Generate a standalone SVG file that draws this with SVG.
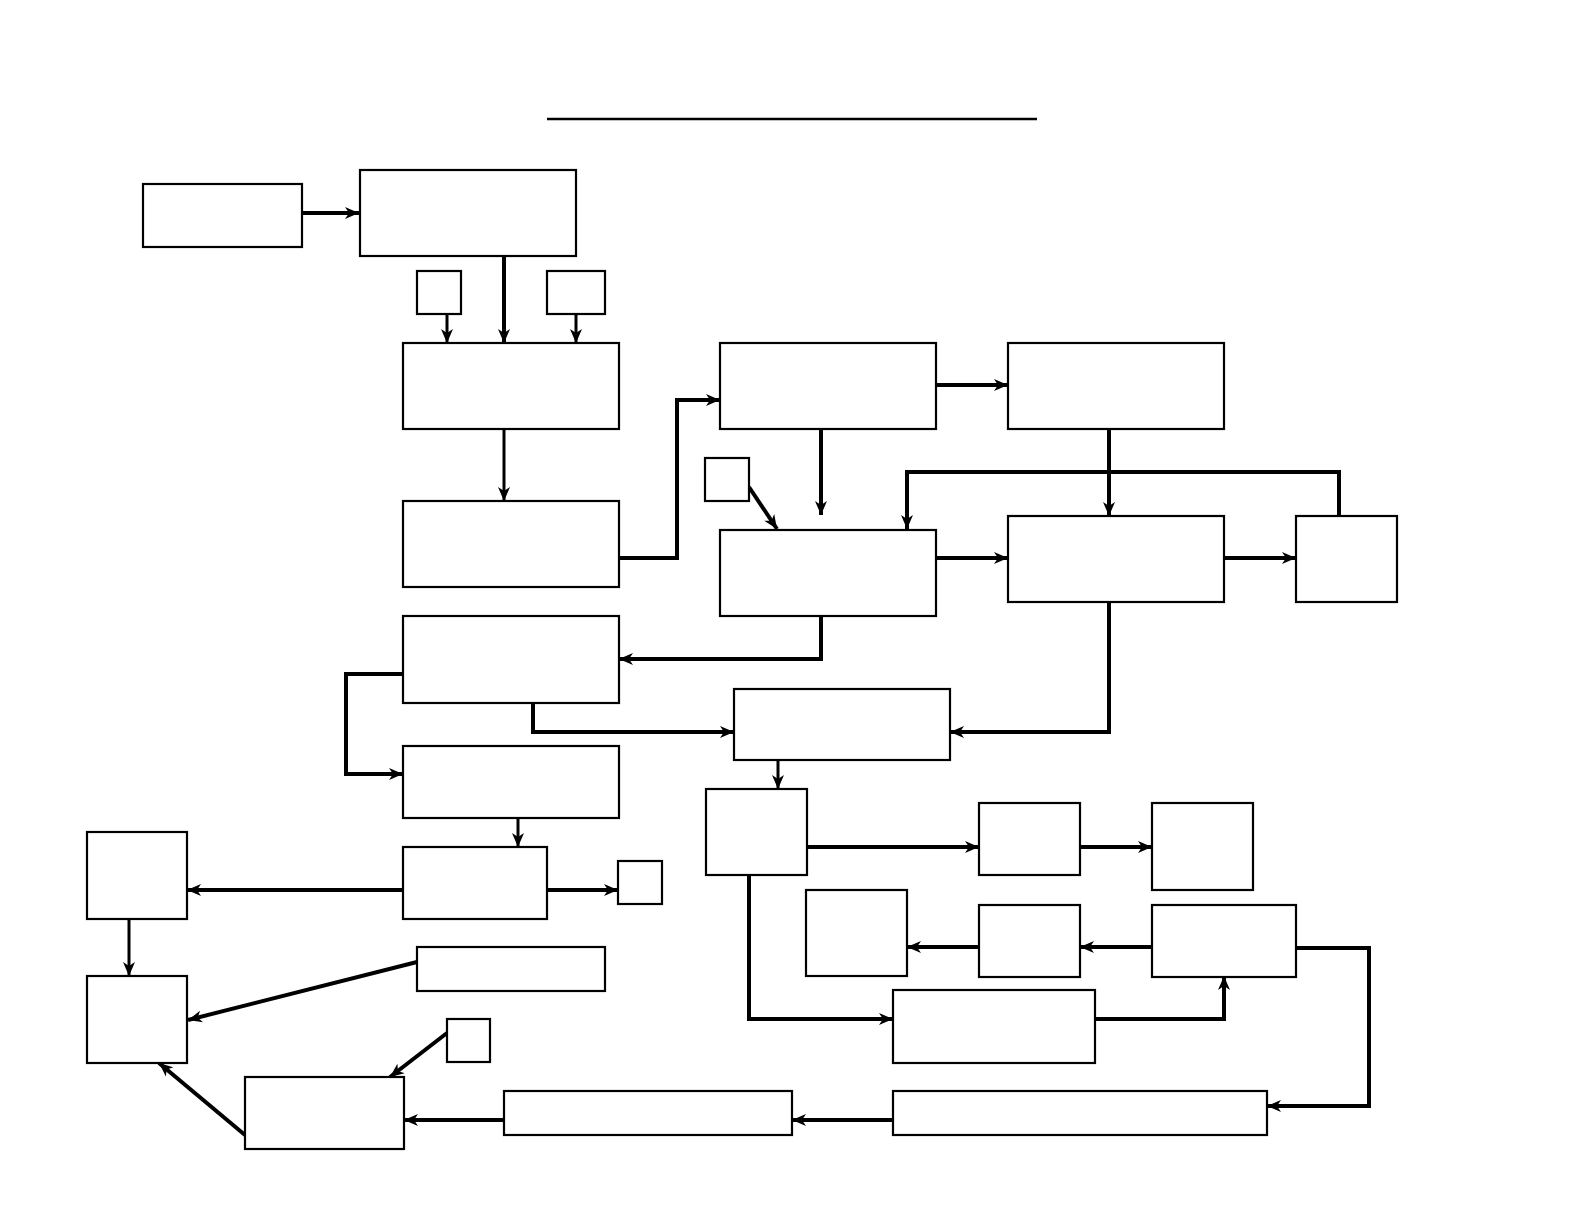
<svg xmlns="http://www.w3.org/2000/svg" width="1584" height="1224" viewBox="0 0 1584 1224">
<defs>
<style>
.n{fill:#fff;stroke:#000;stroke-width:2.2}
.c{fill:none;stroke:#000;stroke-width:4;stroke-linejoin:miter}
.t{stroke-width:3}
.a{marker-end:url(#ah)}
</style>
<marker id="ah" markerUnits="userSpaceOnUse" markerWidth="15" markerHeight="13" refX="14" refY="6.5" orient="auto">
<path d="M0,0.5 L14,6.5 L0,12.5 L4,6.5 z" fill="#000"/>
</marker>
</defs>
<rect width="1584" height="1224" fill="#fff"/>
<line x1="547" y1="119" x2="1037" y2="119" stroke="#000" stroke-width="2.5"/>
<g id="connectors">
<path class="c a" d="M302,213 H359"/>
<path class="c a" d="M504,256 V343"/>
<path class="c t a" d="M447,314 V343"/>
<path class="c t a" d="M576,314 V343"/>
<path class="c t a" d="M504,429 V501"/>
<path class="c a" d="M619,558 H677 V400 H720"/>
<path class="c a" d="M936,385 H1008"/>
<path class="c a" d="M821,429 V515"/>
<path class="c a" d="M749,487 L777,529"/>
<path class="c a" d="M1109,429 V516"/>
<path class="c a" d="M1339,516 V472 H907 V529"/>
<path class="c a" d="M936,558 H1008"/>
<path class="c a" d="M1224,558 H1296"/>
<path class="c a" d="M821,616 V659 H619"/>
<path class="c a" d="M1109,602 V732 H950"/>
<path class="c a" d="M403,674 H346 V774 H403"/>
<path class="c a" d="M533,703 V732 H734"/>
<path class="c t a" d="M778,760 V789"/>
<path class="c t a" d="M518,818 V847"/>
<path class="c a" d="M403,890 H187"/>
<path class="c a" d="M547,890 H618"/>
<path class="c t a" d="M129,919 V976"/>
<path class="c a" d="M417,962 L188,1020"/>
<path class="c a" d="M447,1033 L390,1077"/>
<path class="c a" d="M245,1135 L159,1063"/>
<path class="c a" d="M504,1120 H404"/>
<path class="c a" d="M893,1120 H792"/>
<path class="c a" d="M1296,948 H1369 V1106 H1267"/>
<path class="c a" d="M806,847 H979"/>
<path class="c a" d="M1080,847 H1152"/>
<path class="c a" d="M1152,947 H1080"/>
<path class="c a" d="M979,947 H907"/>
<path class="c a" d="M749,875 V1019 H893"/>
<path class="c a" d="M1095,1019 H1224 V976"/>
</g>
<g id="nA"><rect class="n" x="143" y="184" width="159" height="63"/></g>
<g id="nB"><rect class="n" x="360" y="170" width="216" height="86"/></g>
<g id="nS1"><rect class="n" x="417" y="271" width="44" height="43"/></g>
<g id="nS2"><rect class="n" x="547" y="271" width="58" height="43"/></g>
<g id="nC"><rect class="n" x="403" y="343" width="216" height="86"/></g>
<g id="nD"><rect class="n" x="403" y="501" width="216" height="86"/></g>
<g id="nH"><rect class="n" x="720" y="343" width="216" height="86"/></g>
<g id="nI"><rect class="n" x="1008" y="343" width="216" height="86"/></g>
<g id="nS3"><rect class="n" x="705" y="458" width="44" height="43"/></g>
<g id="nE"><rect class="n" x="720" y="530" width="216" height="86"/></g>
<g id="nF"><rect class="n" x="1008" y="516" width="216" height="86"/></g>
<g id="nG"><rect class="n" x="1296" y="516" width="101" height="86"/></g>
<g id="nJ"><rect class="n" x="403" y="616" width="216" height="87"/></g>
<g id="nL"><rect class="n" x="734" y="689" width="216" height="71"/></g>
<g id="nK"><rect class="n" x="403" y="746" width="216" height="72"/></g>
<g id="nM"><rect class="n" x="403" y="847" width="144" height="72"/></g>
<g id="nS4"><rect class="n" x="618" y="861" width="44" height="43"/></g>
<g id="nN"><rect class="n" x="87" y="832" width="100" height="87"/></g>
<g id="nP"><rect class="n" x="87" y="976" width="100" height="87"/></g>
<g id="nQ"><rect class="n" x="417" y="947" width="188" height="44"/></g>
<g id="nS5"><rect class="n" x="447" y="1019" width="43" height="43"/></g>
<g id="nR"><rect class="n" x="245" y="1077" width="159" height="72"/></g>
<g id="nT"><rect class="n" x="504" y="1091" width="288" height="44"/></g>
<g id="nU"><rect class="n" x="893" y="1091" width="374" height="44"/></g>
<g id="nO"><rect class="n" x="706" y="789" width="101" height="86"/></g>
<g id="nV"><rect class="n" x="979" y="803" width="101" height="72"/></g>
<g id="nW"><rect class="n" x="1152" y="803" width="101" height="87"/></g>
<g id="nX"><rect class="n" x="806" y="890" width="101" height="86"/></g>
<g id="nY"><rect class="n" x="979" y="905" width="101" height="72"/></g>
<g id="nZ"><rect class="n" x="1152" y="905" width="144" height="72"/></g>
<g id="nAA"><rect class="n" x="893" y="990" width="202" height="73"/></g>
</svg>
